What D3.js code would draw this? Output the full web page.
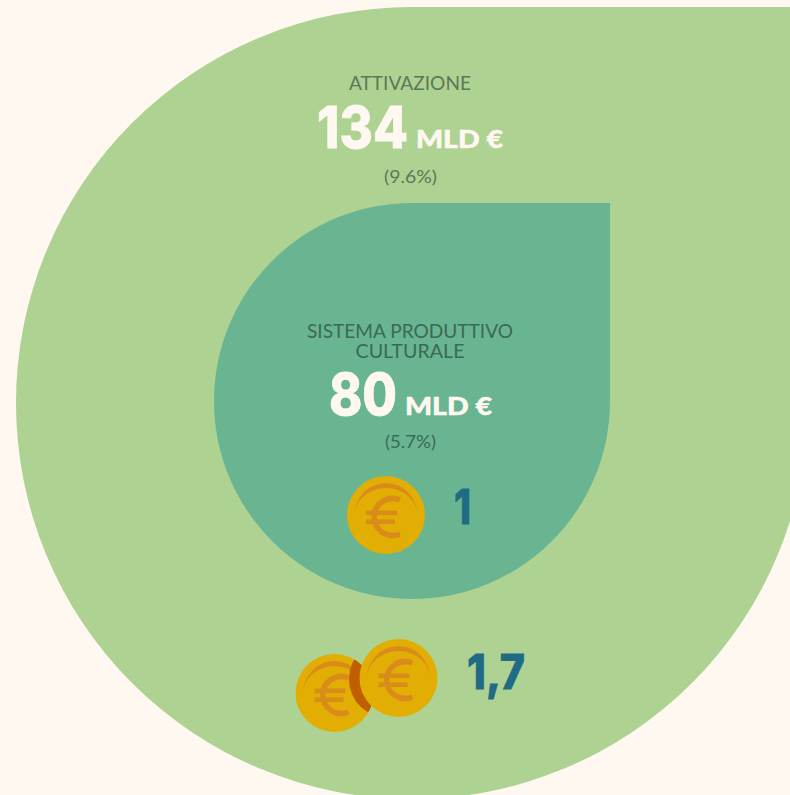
<!DOCTYPE html>
<html lang="en">
<head>
  <meta charset="UTF-8">
  <title>Sistema produttivo culturale</title>
  <script src="https://d3js.org/d3.v7.min.js"></script>
  <style>
    html, body { margin: 0; padding: 0; background: #fff8f1; overflow: hidden; }
    svg { display: block; }
    text { font-family: Lato, sans-serif; }
    .label { font-weight: 400; font-size: 20px; text-anchor: middle; }
    .share { font-weight: 400; font-size: 18px; text-anchor: middle; }
    .big { font-family: Inter, sans-serif; font-weight: 800; font-size: 58px; fill: #fff8f1; stroke: #fff8f1; stroke-width: 0.8; }
    .unit { font-weight: 900; font-size: 25px; fill: #fff8f1; stroke: #fff8f1; stroke-width: 0.5; }
    .mult { font-family: Inter, sans-serif; font-weight: 800; font-size: 48px; fill: #1f6b85; stroke: #1f6b85; stroke-width: 0.8; }
  </style>
</head>
<body>
  <svg id="chart" width="790" height="795"></svg>

  <script>
    // order: outer drop first, inner one on top
    const names = [["ATTIVAZIONE"], ["SISTEMA PRODUTTIVO", "CULTURALE"]];
    const values = [134, 80];
    const shares = ["(9.6%)", "(5.7%)"];
    const multipliers = [1.7, 1];
    const unit = "MLD €";

    const svg = d3.select("#chart");

    // layout, per drop
    const centers = [[412, 403], [412, 401]];
    const fills = ["#aed292", "#69b592"];
    const labelColors = ["#5d7858", "#3a6a54"];
    const labelY = [[90], [338, 358]];
    const labelW = [[122], [206, 109]];
    const bigPos = [[317, 148, 91], [329, 415, 68]];
    const unitPos = [[416, 148, 87], [405, 415, 87]];
    const sharePos = [[410.5, 183, 53], [410.5, 448, 51]];
    const coinPos = [[[334.5, 693], [398.5, 678]], [[386, 515]]];
    const multPos = [[467, 689, 58], [454, 524, 17]];

    const radius = d3.scaleLinear().domain([80, 134]).range([198, 396]);
    const coinR = 39;

    // circle with the top right quarter squared off
    function drop(r) {
      return `M0,${-r}L${r},${-r}L${r},0A${r},${r} 0 0 1 0,${r}A${r},${r} 0 0 1 ${-r},0A${r},${r} 0 0 1 0,${-r}Z`;
    }

    svg.selectAll("path.drop")
      .data(values)
      .enter().append("path")
      .attr("class", "drop")
      .attr("transform", (d, i) => `translate(${centers[i]})`)
      .attr("d", d => drop(radius(d)))
      .attr("fill", (d, i) => fills[i]);

    values.forEach((v, i) => {
      names[i].forEach((line, j) => {
        svg.append("text").attr("class", "label")
          .attr("x", 410).attr("y", labelY[i][j])
          .attr("fill", labelColors[i])
          .attr("textLength", labelW[i][j]).attr("lengthAdjust", "spacingAndGlyphs")
          .text(line);
      });
      svg.append("text").attr("class", "big")
        .attr("x", bigPos[i][0]).attr("y", bigPos[i][1])
        .attr("textLength", bigPos[i][2]).attr("lengthAdjust", "spacingAndGlyphs")
        .text(v);
      svg.append("text").attr("class", "unit")
        .attr("x", unitPos[i][0]).attr("y", unitPos[i][1])
        .attr("textLength", unitPos[i][2]).attr("lengthAdjust", "spacingAndGlyphs")
        .text(unit);
      svg.append("text").attr("class", "share")
        .attr("x", sharePos[i][0]).attr("y", sharePos[i][1])
        .attr("fill", labelColors[i])
        .attr("textLength", sharePos[i][2]).attr("lengthAdjust", "spacingAndGlyphs")
        .text(shares[i]);
    });

    function coin(g) {
      g.append("circle").attr("r", coinR).attr("fill", "#e2ae03");
      // shine
      g.append("path").attr("fill", "#d98c1a")
        .attr("d", "M-32,2A32,34 0 0 1 32,2A32,29 0 0 0 -32,2Z");
      // euro sign
      g.append("path").attr("fill", "none").attr("stroke", "#d98c1a").attr("stroke-width", 5.5)
        .attr("d", "M14,-15A18.5,18.5 0 1 0 14,19");
      g.append("rect").attr("x", -20).attr("y", -4.5).attr("width", 31).attr("height", 4.6).attr("fill", "#d98c1a");
      g.append("rect").attr("x", -20).attr("y", 4.4).attr("width", 29).attr("height", 4.6).attr("fill", "#d98c1a");
    }

    multipliers.forEach((m, i) => {
      const pos = coinPos[i];
      pos.forEach((p, k) => {
        const g = svg.append("g").attr("transform", `translate(${p})`);
        coin(g);
        // shadow of the front coin on the back one
        if (k === 0 && pos.length > 1) {
          svg.append("clipPath").attr("id", "backCoin")
            .append("circle").attr("cx", p[0]).attr("cy", p[1]).attr("r", coinR);
          svg.append("circle").attr("clip-path", "url(#backCoin)")
            .attr("cx", pos[1][0] - 10.5).attr("cy", pos[1][1] + 1).attr("r", coinR)
            .attr("fill", "#bf5f00");
        }
      });
      svg.append("text").attr("class", "mult")
        .attr("x", multPos[i][0]).attr("y", multPos[i][1])
        .attr("textLength", multPos[i][2]).attr("lengthAdjust", "spacingAndGlyphs")
        .text(String(m).replace(".", ","));
    });
  </script>
</body>
</html>
